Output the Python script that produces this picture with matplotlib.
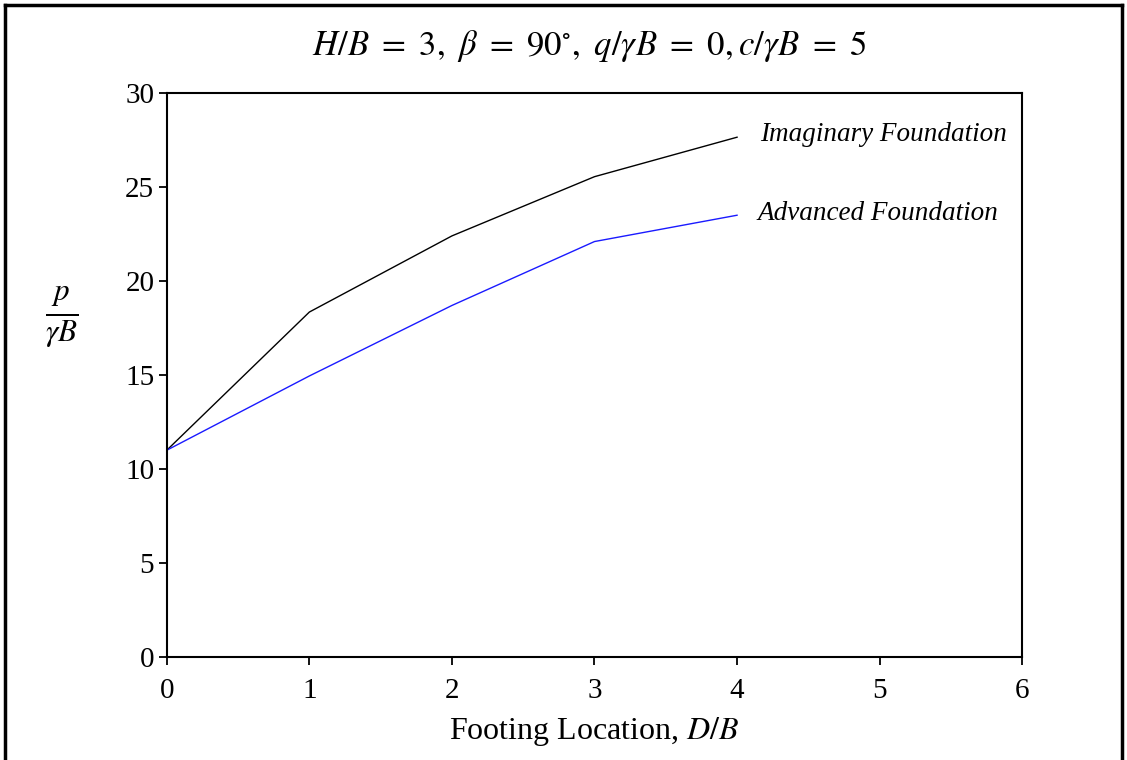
import matplotlib
matplotlib.use("Agg")
import matplotlib.pyplot as plt
from matplotlib.lines import Line2D

plt.rcParams["font.family"] = ["Liberation Serif", "DejaVu Serif"]
plt.rcParams["mathtext.fontset"] = "stix"

footing_db = [0, 1, 2, 3, 4]
imaginary = [11.0, 18.35, 22.4, 25.55, 27.65]
advanced = [11.0, 14.95, 18.7, 22.1, 23.5]
series_labels = ["Imaginary Foundation", "Advanced Foundation"]
x_ticks = [0, 1, 2, 3, 4, 5, 6]
y_ticks = [0, 5, 10, 15, 20, 25, 30]

fig = plt.figure(figsize=(11.27, 7.6), dpi=100)
ax = fig.add_axes([0.148, 0.1355, 0.759, 0.7421])

ax.plot(footing_db, imaginary, color="black", linewidth=1.0)
ax.plot(footing_db, advanced, color="#1a1aff", linewidth=1.0)

ax.set_xlim(0, 6)
ax.set_ylim(0, 30)
ax.set_xticks(x_ticks)
ax.set_yticks(y_ticks)
ax.tick_params(direction="out", length=6, width=1.3, labelsize=21, pad=3)
ax.tick_params(axis="x", pad=9)
for spine in ax.spines.values():
    spine.set_linewidth(1.5)

ax.text(4.16, 27.8, series_labels[0], fontsize=19.5, style="italic",
        va="center", ha="left")
ax.text(4.14, 23.6, series_labels[1], fontsize=19.5, style="italic",
        va="center", ha="left")

ax.set_xlabel(r"Footing Location, $D/B$", fontsize=23, labelpad=8)
fig.text(0.055, 0.582, r"$\frac{p}{\gamma B}$", fontsize=32, ha="center", va="center")

fig.text(0.523, 0.939,
         r"$H/B\ =\ 3,\ \beta\ =\ 90^{\circ},\ q/\gamma B\ =\ 0, c/\gamma B\ =\ 5$",
         fontsize=25, ha="center", va="center")

# outer frame of the figure
for xs, ys in [([0.004, 0.004], [0.0, 0.994]), ([0.004, 0.996], [0.994, 0.994]),
               ([0.996, 0.996], [0.0, 0.994])]:
    fig.add_artist(Line2D(xs, ys, color="black", linewidth=2.5, transform=fig.transFigure))

fig.savefig("out.png", dpi=100)
